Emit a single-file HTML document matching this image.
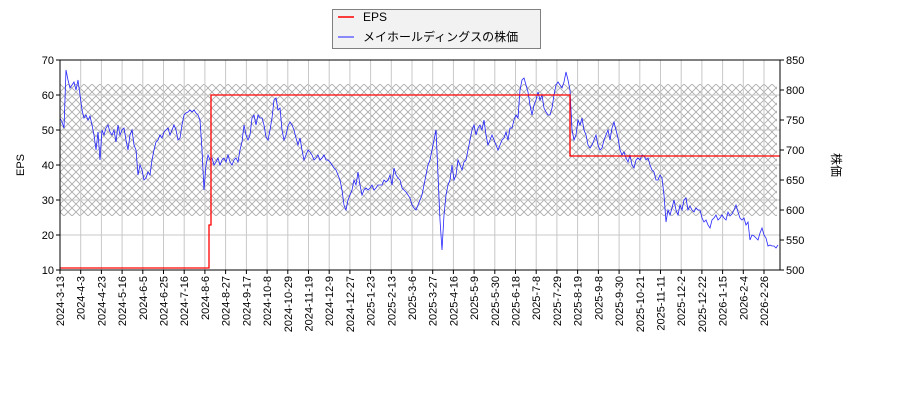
<!DOCTYPE html>
<html><head><meta charset="utf-8"><style>body{margin:0;background:#fff}svg{display:block}text{font-family:"Liberation Sans","DejaVu Sans","Noto Sans CJK JP",sans-serif;fill:#000}</style></head><body>
<svg width="900" height="400" xmlns="http://www.w3.org/2000/svg">
<defs><pattern id="h" width="8" height="8" patternUnits="userSpaceOnUse"><path d="M0,0L8,8M0,8L8,0" stroke="#a8a8a8" stroke-width="0.8" fill="none"/></pattern></defs>
<rect x="60" y="84" width="717" height="132" fill="url(#h)"/>
<g stroke="#c8c8c8" stroke-width="1">
<path d="M60,235H780M60,200H780M60,165H780M60,130H780M60,95H780"/>
<path d="M80.7,60V270M101.4,60V270M122.1,60V270M142.8,60V270M163.5,60V270M184.2,60V270M204.9,60V270M225.6,60V270M246.4,60V270M267.1,60V270M287.8,60V270M308.5,60V270M329.2,60V270M349.9,60V270M370.6,60V270M391.3,60V270M412,60V270M432.7,60V270M453.4,60V270M474.1,60V270M494.8,60V270M515.5,60V270M536.2,60V270M556.9,60V270M577.6,60V270M598.4,60V270M619.1,60V270M639.8,60V270M660.5,60V270M681.2,60V270M701.9,60V270M722.6,60V270M743.3,60V270M764,60V270"/>
</g>
<polyline fill="none" stroke="#0000ff" stroke-width="0.8" stroke-opacity="0.85" points="60,118 62,122 64,128 66,70 68,80 70,88 72,85 74,82 76,90 78,80 80,95 82,110 84,118 86,115 88,120 90,116 92,125 94,135 96,150 98,132 100,160 102,130 104,135 106,128 108,125 110,132 112,135 114,130 116,142 118,125 120,135 122,130 124,128 126,140 128,150 130,135 132,130 134,145 136,150 138,175 140,165 142,170 144,180 146,178 148,172 150,175 152,160 154,150 156,142 158,140 160,135 162,138 164,132 166,130 168,128 170,135 172,130 174,125 176,130 178,140 180,138 182,125 184,115 186,113 188,112 190,110 192,112 194,110 196,113 198,115 200,120 202,150 204,190 206,165 208,155 210,160 212,158 214,165 216,162 218,158 220,165 222,160 224,158 226,162 228,155 230,162 232,165 234,160 236,158 238,162 240,150 242,142 244,125 246,135 248,140 250,135 252,118 254,115 256,125 258,115 260,118 262,118 264,125 266,137 268,140 270,130 272,118 274,100 276,98 278,110 280,108 282,130 284,140 286,135 288,126 290,122 292,125 294,130 296,138 298,145 300,138 302,150 304,160 306,155 308,150 310,152 312,155 314,160 316,158 318,155 320,160 322,158 324,155 326,160 328,160 330,162 332,165 334,168 336,170 338,175 340,180 342,190 344,205 346,210 348,200 350,195 352,190 354,180 356,185 358,172 360,185 362,195 364,190 366,188 368,190 370,188 372,185 374,190 376,188 378,185 380,185 382,185 384,180 386,182 388,180 390,175 392,185 394,168 396,175 398,178 400,180 402,188 404,190 406,192 408,195 410,198 412,205 414,208 416,210 418,205 420,200 422,195 424,185 426,175 428,165 430,160 432,150 434,140 436,130 438,175 440,220 442,250 444,215 446,195 448,185 450,180 452,165 454,180 456,175 458,160 460,165 462,170 464,162 466,160 468,150 470,140 472,130 474,125 476,135 478,128 480,125 482,130 484,120 486,135 488,145 490,140 492,135 494,140 496,145 498,150 500,145 502,140 504,138 506,132 508,140 510,128 512,128 514,120 516,115 518,118 520,90 522,80 524,78 526,85 528,92 530,105 532,115 534,105 536,100 538,92 540,100 542,95 544,108 546,112 548,115 550,115 552,108 554,95 556,85 558,82 560,85 562,88 564,82 566,72 568,80 570,90 572,130 574,140 576,135 578,120 580,125 582,118 584,130 586,135 588,145 590,148 592,145 594,140 596,135 598,145 600,150 602,148 604,140 606,135 608,130 610,140 612,128 614,122 616,130 618,138 620,150 622,155 624,152 626,158 628,162 630,155 632,165 634,168 636,160 638,158 640,160 642,155 644,156 646,160 648,158 650,165 652,170 654,172 656,180 658,180 660,175 662,178 664,195 666,222 668,210 670,215 672,208 674,200 676,210 678,215 680,205 682,210 684,200 686,198 688,210 690,206 692,210 694,212 696,208 698,210 700,210 702,218 704,222 706,220 708,225 710,228 712,220 714,218 716,215 718,220 720,218 722,215 724,218 726,220 728,212 730,216 732,214 734,210 736,205 738,212 740,218 742,220 744,218 746,225 748,222 750,240 752,235 754,236 756,238 758,240 760,233 762,228 764,235 766,238 768,246 770,245 772,246 774,246 776,248 778,245"/>
<polyline fill="none" stroke="#ff0000" stroke-width="1.3" points="60,268 209,268 209,225 211,225 211,95 570,95 570,156 780,156"/>
<rect x="60" y="60" width="720" height="210" fill="none" stroke="#000" stroke-width="1"/>
<g font-size="11" text-anchor="end">
<text x="54" y="274">10</text><text x="54" y="239">20</text><text x="54" y="204">30</text><text x="54" y="169">40</text><text x="54" y="134">50</text><text x="54" y="99">60</text><text x="54" y="64">70</text>
</g>
<g font-size="11">
<text x="786" y="274">500</text><text x="786" y="244">550</text><text x="786" y="214">600</text><text x="786" y="184">650</text><text x="786" y="154">700</text><text x="786" y="124">750</text><text x="786" y="94">800</text><text x="786" y="64">850</text>
</g>
<g stroke="#000"><path d="M60,270h-4M60,235h-4M60,200h-4M60,165h-4M60,130h-4M60,95h-4M60,60h-4M780,270h4M780,240h4M780,210h4M780,180h4M780,150h4M780,120h4M780,90h4M780,60h4"/>
<path d="M60,270v4M80.7,270v4M101.4,270v4M122.1,270v4M142.8,270v4M163.5,270v4M184.2,270v4M204.9,270v4M225.6,270v4M246.4,270v4M267.1,270v4M287.8,270v4M308.5,270v4M329.2,270v4M349.9,270v4M370.6,270v4M391.3,270v4M412,270v4M432.7,270v4M453.4,270v4M474.1,270v4M494.8,270v4M515.5,270v4M536.2,270v4M556.9,270v4M577.6,270v4M598.4,270v4M619.1,270v4M639.8,270v4M660.5,270v4M681.2,270v4M701.9,270v4M722.6,270v4M743.3,270v4M764,270v4"/></g>
<g font-size="11" text-anchor="end">
<text transform="translate(64,276) rotate(-90)">2024-3-13</text>
<text transform="translate(84.7,276) rotate(-90)">2024-4-3</text>
<text transform="translate(105.4,276) rotate(-90)">2024-4-23</text>
<text transform="translate(126.1,276) rotate(-90)">2024-5-16</text>
<text transform="translate(146.8,276) rotate(-90)">2024-6-5</text>
<text transform="translate(167.5,276) rotate(-90)">2024-6-25</text>
<text transform="translate(188.2,276) rotate(-90)">2024-7-16</text>
<text transform="translate(208.9,276) rotate(-90)">2024-8-6</text>
<text transform="translate(229.6,276) rotate(-90)">2024-8-27</text>
<text transform="translate(250.4,276) rotate(-90)">2024-9-17</text>
<text transform="translate(271.1,276) rotate(-90)">2024-10-8</text>
<text transform="translate(291.8,276) rotate(-90)">2024-10-29</text>
<text transform="translate(312.5,276) rotate(-90)">2024-11-19</text>
<text transform="translate(333.2,276) rotate(-90)">2024-12-9</text>
<text transform="translate(353.9,276) rotate(-90)">2024-12-27</text>
<text transform="translate(374.6,276) rotate(-90)">2025-1-23</text>
<text transform="translate(395.3,276) rotate(-90)">2025-2-13</text>
<text transform="translate(416,276) rotate(-90)">2025-3-6</text>
<text transform="translate(436.7,276) rotate(-90)">2025-3-27</text>
<text transform="translate(457.4,276) rotate(-90)">2025-4-16</text>
<text transform="translate(478.1,276) rotate(-90)">2025-5-9</text>
<text transform="translate(498.8,276) rotate(-90)">2025-5-30</text>
<text transform="translate(519.5,276) rotate(-90)">2025-6-18</text>
<text transform="translate(540.2,276) rotate(-90)">2025-7-8</text>
<text transform="translate(560.9,276) rotate(-90)">2025-7-29</text>
<text transform="translate(581.6,276) rotate(-90)">2025-8-19</text>
<text transform="translate(602.4,276) rotate(-90)">2025-9-8</text>
<text transform="translate(623.1,276) rotate(-90)">2025-9-30</text>
<text transform="translate(643.8,276) rotate(-90)">2025-10-21</text>
<text transform="translate(664.5,276) rotate(-90)">2025-11-11</text>
<text transform="translate(685.2,276) rotate(-90)">2025-12-2</text>
<text transform="translate(705.9,276) rotate(-90)">2025-12-22</text>
<text transform="translate(726.6,276) rotate(-90)">2026-1-15</text>
<text transform="translate(747.3,276) rotate(-90)">2026-2-4</text>
<text transform="translate(768,276) rotate(-90)">2026-2-26</text>
</g>
<text font-size="11" transform="translate(24,165) rotate(-90)" text-anchor="middle">EPS</text>
<text font-size="12" transform="translate(832,165) rotate(90)" text-anchor="middle">株価</text>
<rect x="332.5" y="9.5" width="208" height="39" fill="#f2f2f2" stroke="#808080"/>
<path d="M338,17H354" stroke="#ff0000" stroke-width="1.5"/>
<path d="M338,37H354" stroke="#6666ff" stroke-width="1.5"/>
<text x="363" y="21" font-size="12">EPS</text>
<text x="363" y="41" font-size="12">メイホールディングスの株価</text>
</svg>
</body></html>
